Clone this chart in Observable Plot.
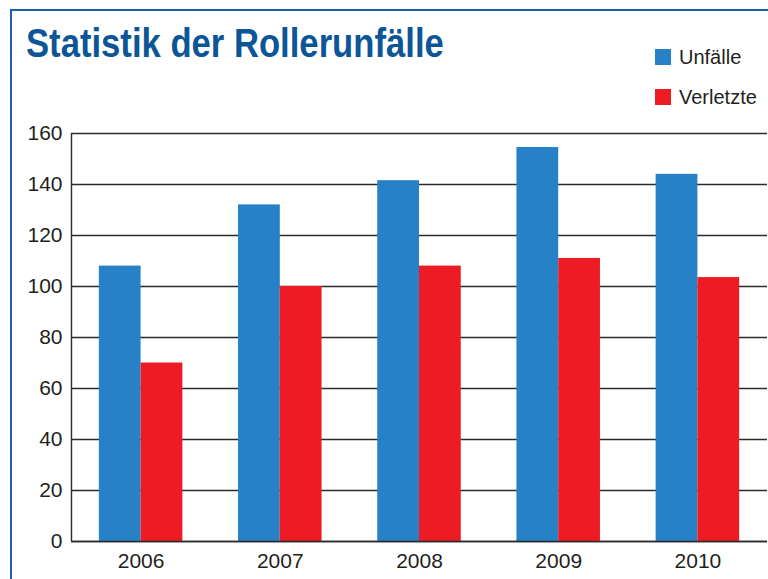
<!DOCTYPE html>
<html>
<head>
<meta charset="utf-8">
<script src="https://cdn.jsdelivr.net/npm/d3@7"></script>
<script src="https://cdn.jsdelivr.net/npm/@observablehq/plot@0.6"></script>
<style>
  html, body { margin: 0; padding: 0; background: #fff; overflow: hidden; }
  #wrap { position: relative; width: 768px; height: 579px; }
  #frame { position: absolute; left: 10px; top: 9px; width: 800px; height: 600px;
           border-left: 2px solid #1b5fa9; border-top: 2px solid #1b5fa9; pointer-events: none; }
  #header { position: relative; height: 120px; }
  #title { position: absolute; left: 26px; top: 23px; margin: 0;
           font-family: "Liberation Sans", Arial, sans-serif;
           font-weight: bold; font-size: 41px; line-height: 1; color: #0c5597; white-space: nowrap;
           transform: scaleX(0.845); transform-origin: 0 0; }
  .leg { position: absolute; left: 655px; font-family: "Liberation Sans", Arial, sans-serif;
         font-size: 20px; color: #231f20; line-height: 1; white-space: nowrap; }
  .leg span.sw { display: inline-block; width: 16px; height: 16px; vertical-align: -1px; margin-right: 8px; }
  #chart svg { display: block; }
</style>
</head>
<body>
<div id="wrap">
  <div id="header">
    <h1 id="title">Statistik der Rollerunfälle</h1>
    <div id="legend"></div>
  </div>
  <div id="chart"></div>
  <div id="frame"></div>
</div>
<script>
const years = [2006, 2007, 2008, 2009, 2010];
const unfaelle = [108, 132, 141.5, 154.5, 144];
const verletzte = [70, 100, 108, 111, 103.5];
const seriesNames = ["Unfälle", "Verletzte"];
const seriesColors = ["#2781c6", "#ed1c24"];
const yTicks = [0, 20, 40, 60, 80, 100, 120, 140, 160];

const rows = [];
years.forEach((y, i) => {
  rows.push({year: y, series: seriesNames[0], value: unfaelle[i], side: -1});
  rows.push({year: y, series: seriesNames[1], value: verletzte[i], side: 1});
});
const half = 0.3; // half of group width in year units

// legend
const legend = document.getElementById("legend");
seriesNames.forEach((s, i) => {
  const d = document.createElement("div");
  d.className = "leg";
  d.style.top = (47 + i * 40) + "px";
  d.innerHTML = `<span class="sw" style="background:${seriesColors[i]}"></span>${s}`;
  legend.appendChild(d);
});

const chart = Plot.plot({
  width: 768,
  height: 459,
  marginTop: 13,
  marginBottom: 38,
  marginLeft: 71,
  marginRight: 1,
  style: { fontFamily: "'Liberation Sans', Arial, sans-serif", fontSize: "21px", color: "#231f20", background: "transparent" },
  x: { domain: [2005.5, 2010.5], axis: null },
  y: { domain: [0, 160], axis: null },
  color: { domain: seriesNames, range: seriesColors },
  marks: [
    Plot.ruleY(yTicks, { stroke: "#2b2b2b", strokeWidth: 1.4 }),
    Plot.rectY(rows, {
      x1: d => d.side < 0 ? d.year - half : d.year,
      x2: d => d.side < 0 ? d.year : d.year + half,
      y: "value",
      fill: "series"
    }),
    Plot.ruleY([0], { stroke: "#2b2b2b", strokeWidth: 1.4 }),
    Plot.ruleX([2005.5], { stroke: "#2b2b2b", strokeWidth: 1.4 }),
    Plot.axisY({ ticks: yTicks, label: null, tickSize: 0, tickPadding: 9, fontSize: 21 }),
    Plot.axisX({ ticks: years, label: null, tickFormat: d => String(d), tickSize: 0, tickPadding: 12, fontSize: 21 })
  ]
});
document.getElementById("chart").appendChild(chart);
</script>
</body>
</html>
